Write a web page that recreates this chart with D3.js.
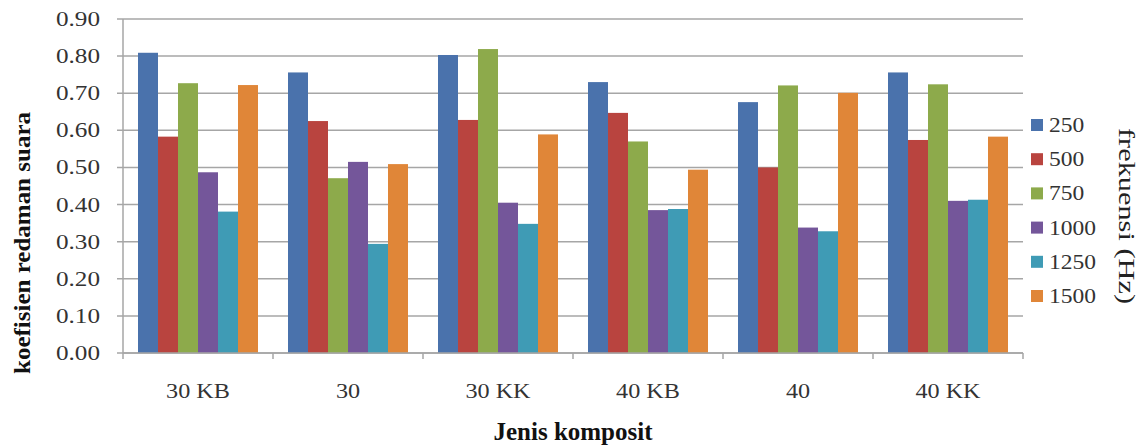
<!DOCTYPE html>
<html>
<head>
<meta charset="utf-8">
<script src="https://cdn.jsdelivr.net/npm/d3@7"></script>
<style>
  body { margin: 0; background: #fff; }
  svg { display: block; font-family: "Liberation Serif", "DejaVu Serif", serif; }
</style>
</head>
<body>
<svg id="chart" width="1146" height="448"></svg>
<script>
// data
const categories = ["30 KB", "30", "30 KK", "40 KB", "40", "40 KK"];
const freqs = ["250", "500", "750", "1000", "1250", "1500"];
const v250  = [0.809, 0.756, 0.803, 0.730, 0.676, 0.756];
const v500  = [0.583, 0.625, 0.628, 0.647, 0.500, 0.574];
const v750  = [0.727, 0.471, 0.819, 0.570, 0.721, 0.724];
const v1000 = [0.487, 0.515, 0.405, 0.385, 0.338, 0.410];
const v1250 = [0.381, 0.294, 0.348, 0.388, 0.328, 0.413];
const v1500 = [0.722, 0.509, 0.589, 0.494, 0.701, 0.583];
const yTicks = [0, 0.1, 0.2, 0.3, 0.4, 0.5, 0.6, 0.7, 0.8, 0.9];
const colors = ["#4A72AC", "#B9443F", "#8DAA4B", "#74569A", "#3F9BB5", "#E08638"];

const series = [v250, v500, v750, v1000, v1250, v1500];
const rows = categories.map((c, i) => ({ cat: c, vals: series.map(s => s[i]) }));

const svg = d3.select("#chart");
const margin = { top: 19, left: 123, right: 1023, bottom: 353 };

const x0 = d3.scaleBand()
  .domain(categories)
  .range([margin.left, margin.right])
  .paddingInner(0.2)
  .paddingOuter(0.1);
const x1 = d3.scaleBand()
  .domain(freqs)
  .range([0, x0.bandwidth()]);
const y = d3.scaleLinear()
  .domain([0, 0.9])
  .range([margin.bottom, margin.top]);

const grey = "#A6A6A6";

// gridlines + left ticks
svg.append("g")
  .selectAll("line")
  .data(yTicks)
  .join("line")
  .attr("x1", margin.left - 6)
  .attr("x2", margin.right)
  .attr("y1", d => y(d))
  .attr("y2", d => y(d))
  .attr("stroke", grey)
  .attr("stroke-width", 1.5);

// tick labels (stretched a bit like the picture)
svg.append("g")
  .selectAll("text")
  .data(yTicks)
  .join("text")
  .attr("transform", d => `translate(100,${y(d) + 7}) scale(1.2,1)`)
  .attr("text-anchor", "end")
  .attr("font-size", 21)
  .attr("fill", "#333")
  .text(d => d3.format(".2f")(d));

// bars
const groups = svg.append("g")
  .selectAll("g")
  .data(rows)
  .join("g")
  .attr("transform", d => `translate(${x0(d.cat)},0)`);

groups.selectAll("rect")
  .data(d => d.vals.map((v, i) => ({ f: freqs[i], v: v, i: i })))
  .join("rect")
  .attr("x", d => x1(d.f))
  .attr("width", x1.bandwidth())
  .attr("y", d => y(d.v))
  .attr("height", d => y(0) - y(d.v))
  .attr("fill", d => colors[d.i]);

// axes lines
svg.append("line")
  .attr("x1", margin.left).attr("x2", margin.left)
  .attr("y1", margin.top).attr("y2", margin.bottom)
  .attr("stroke", grey).attr("stroke-width", 1.5);
svg.append("line")
  .attr("x1", margin.left).attr("x2", margin.right)
  .attr("y1", margin.bottom).attr("y2", margin.bottom)
  .attr("stroke", grey).attr("stroke-width", 1.5);

// bottom ticks at category boundaries
const bounds = categories.map(c => x0(c) - x0.step() * 0.1).concat([margin.right]);
svg.append("g")
  .selectAll("line")
  .data(bounds)
  .join("line")
  .attr("x1", d => d).attr("x2", d => d)
  .attr("y1", margin.bottom).attr("y2", margin.bottom + 6)
  .attr("stroke", grey).attr("stroke-width", 1.5);

// category labels
svg.append("g")
  .selectAll("text")
  .data(categories)
  .join("text")
  .attr("transform", d => `translate(${x0(d) + x0.bandwidth() / 2},398) scale(1.1,1)`)
  .attr("text-anchor", "middle")
  .attr("font-size", 22)
  .attr("fill", "#333")
  .text(d => d);

// axis titles
svg.append("text")
  .attr("x", (margin.left + margin.right) / 2)
  .attr("y", 440)
  .attr("text-anchor", "middle")
  .attr("font-size", 25)
  .attr("font-weight", "bold")
  .attr("fill", "#111")
  .text("Jenis komposit");

svg.append("text")
  .attr("transform", "translate(30,243) rotate(-90)")
  .attr("text-anchor", "middle")
  .attr("font-size", 23)
  .attr("font-weight", "bold")
  .attr("fill", "#111")
  .attr("textLength", 262)
  .attr("lengthAdjust", "spacingAndGlyphs")
  .text("koefisien redaman suara");

// legend
const legend = svg.append("g")
  .selectAll("g")
  .data(freqs)
  .join("g")
  .attr("transform", (d, i) => `translate(1031,${125 + i * 34.2})`);

legend.append("rect")
  .attr("x", 0).attr("y", -6)
  .attr("width", 12).attr("height", 12)
  .attr("fill", (d, i) => colors[i]);

legend.append("text")
  .attr("transform", "translate(18,7) scale(1.12,1)")
  .attr("font-size", 21)
  .attr("fill", "#333")
  .text(d => d);

svg.append("text")
  .attr("transform", "translate(1119,216) rotate(90)")
  .attr("text-anchor", "middle")
  .attr("font-size", 23)
  .attr("fill", "#222")
  .attr("textLength", 176)
  .attr("lengthAdjust", "spacingAndGlyphs")
  .text("frekuensi (Hz)");
</script>
</body>
</html>
